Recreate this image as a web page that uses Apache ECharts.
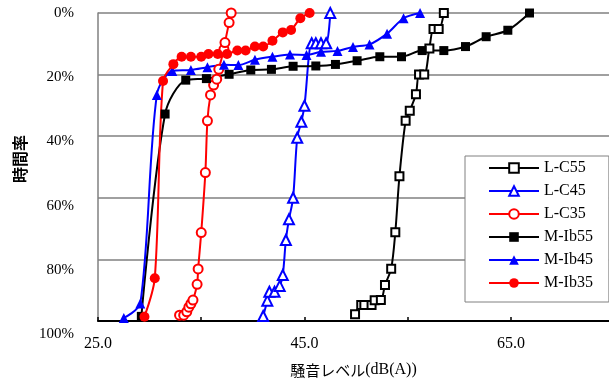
<!DOCTYPE html>
<html><head><meta charset="utf-8">
<script src="https://cdn.jsdelivr.net/npm/echarts@6/dist/echarts.min.js"></script>
<style>html,body{margin:0;padding:0;background:#fff}#c{width:609px;height:380px}</style>
</head><body><div id="c"></div>
<script>
const seriesNames = ['L-C55','L-C45','L-C35','M-Ib55','M-Ib45','M-Ib35'];
const xTickLabels = ['25.0','45.0','65.0'];
const xTickMarks = [25,35,45,55,65];
const yTickLabels = ['0%','20%','40%','60%','80%','100%'];
const xTitleJa = '騒音レベル';
const xTitleUnit = '(dB(A))';
const yTitle = '時間率';

const lc55 = [[49.9,97.8],[50.5,94.8],[50.8,94.8],[51.5,94.8],[51.8,93.3],[52.4,93.2],[52.8,88.3],[53.4,83.0],[53.8,71.2],[54.2,53.0],[54.8,35.0],[55.2,31.7],[55.8,26.4],[56.1,20.0],[56.6,20.0],[57.1,11.5],[57.5,5.2],[58.0,5.2],[58.5,0]];
const lc45 = [[41.0,98.4],[41.4,93.4],[41.6,90.5],[42.1,90.5],[42.6,88.6],[42.9,85.1],[43.2,73.7],[43.5,67.0],[43.9,60.0],[44.3,40.5],[44.7,35.3],[45.0,30.1],[45.7,9.8],[46.1,9.8],[46.6,9.8],[47.1,9.8],[47.5,0]];
const lc35 = [[32.9,98.1],[33.3,98.1],[33.6,97.0],[33.8,95.5],[34.0,94.4],[34.2,93.2],[34.6,88.1],[34.7,83.1],[35.0,71.3],[35.4,51.8],[35.6,35.0],[35.9,26.6],[36.2,23.4],[36.5,21.5],[36.7,18.3],[37.2,11.8],[37.3,9.6],[37.7,3.1],[37.9,0]];
const mib55 = [[29.2,98.5],[31.5,32.8],[33.5,21.8],[35.5,21.3],[37.7,19.9],[39.8,18.5],[41.8,18.3],[43.9,17.3],[46.1,17.2],[48.0,16.7],[50.1,15.5],[52.3,14.2],[54.4,14.2],[56.4,12.2],[58.5,12.2],[60.6,10.9],[62.6,7.7],[64.7,5.6],[66.8,0]];
const mib45 = [[27.5,99.0],[29.1,94.3],[30.7,26.6],[32.2,18.8],[34.0,18.5],[35.6,17.6],[37.2,16.8],[38.6,16.9],[40.2,15.2],[41.9,14.2],[43.6,13.5],[45.2,13.6],[46.6,12.6],[48.2,12.3],[49.7,11.0],[51.3,10.2],[53.0,6.7],[54.6,1.7],[56.2,0]];
const mib35 = [[29.5,98.6],[30.5,86.1],[31.3,22.1],[32.3,16.6],[33.1,14.2],[34.0,14.2],[35.0,14.2],[35.7,13.3],[36.6,13.3],[37.5,13.3],[38.5,12.2],[39.3,12.2],[40.2,10.9],[41.0,10.9],[41.9,9.0],[42.9,6.3],[43.7,5.5],[44.6,1.7],[45.5,0]];

const seriesData = [lc55, lc45, lc35, mib55, mib45, mib35];
const seriesColors = ['#000000','#0000ff','#ff0000','#000000','#0000ff','#ff0000'];
const seriesSymbols = ['emptyRect','emptyTriangle','emptyCircle','rect','triangle','circle'];
const seriesSizes = [8,10,9,9,10,10];

const serif = '"Liberation Serif","DejaVu Serif",serif';
const cjk = '"Noto Sans CJK JP","Noto Sans",sans-serif';

const chart = echarts.init(document.getElementById('c'), null, {renderer:'canvas'});
chart.setOption({
  animation: false,
  backgroundColor: '#fff',
  grid: [
    {left: 98, right: 0, top: 13, bottom: 59, containLabel: false, outerBoundsMode: 'none'},
    {left: 98, right: 0, top: 13, bottom: 46, containLabel: false, outerBoundsMode: 'none'}
  ],
  xAxis: [{
    type: 'value', gridIndex: 0, min: 25, max: 74.5,
    axisLine: {onZero: false, lineStyle: {color: '#000', width: 2}},
    axisTick: {show: true, inside: true, length: 4, customValues: xTickMarks, lineStyle: {color: '#000', width: 1.5}},
    axisLabel: {customValues: xTickLabels.map(Number), formatter: v => xTickLabels.find(t => Number(t) === v) || '',
      margin: 15, color: '#000', fontFamily: serif, fontSize: 16},
    splitLine: {show: false},
    name: '{a|' + xTitleJa + '}{b|' + xTitleUnit + '}',
    nameLocation: 'middle', nameGap: 41,
    nameTextStyle: {rich: {
      a: {fontFamily: cjk, fontSize: 15, color: '#000'},
      b: {fontFamily: serif, fontSize: 16, color: '#000'}
    }}
  }, {
    type: 'value', gridIndex: 1, min: 25, max: 74.5, show: false
  }],
  yAxis: [{
    type: 'value', gridIndex: 0, min: 0, max: 100, interval: 20, inverse: true,
    axisLine: {show: true, lineStyle: {color: '#808080', width: 1.5}},
    axisTick: {show: false},
    axisLabel: {show: false},
    splitLine: {show: true, lineStyle: {color: '#808080', width: 1.5}},
    name: yTitle, nameLocation: 'middle', nameRotate: 90, nameGap: 70,
    nameTextStyle: {fontFamily: cjk, fontSize: 16, fontWeight: 'bold', color: '#000', padding: [0, 0, 0, 16]}
  }, {
    type: 'value', gridIndex: 1, min: 0, max: 100, interval: 20, inverse: true,
    axisLine: {show: false}, axisTick: {show: false}, splitLine: {show: false},
    axisLabel: {margin: 24, color: '#000', fontFamily: serif, fontSize: 15,
      formatter: v => yTickLabels[Math.round(v / 20)]}
  }],
  legend: {
    orient: 'vertical', left: 465, top: 156,
    itemWidth: 50, itemHeight: 12, itemGap: 7,
    padding: [4, 16, 11, 23],
    backgroundColor: '#fff', borderColor: '#808080', borderWidth: 1,
    textStyle: {fontFamily: serif, fontSize: 16, color: '#000', lineHeight: 16},
    data: seriesNames
  },
  series: seriesNames.map((n, i) => ({
    name: n, type: 'line', xAxisIndex: 0, yAxisIndex: 0,
    data: seriesData[i], smooth: 0.3,
    symbol: seriesSymbols[i], symbolSize: seriesSizes[i],
    itemStyle: {color: seriesColors[i]},
    lineStyle: {color: seriesColors[i], width: 2},
    emphasis: {disabled: true}
  }))
});
</script></body></html>
